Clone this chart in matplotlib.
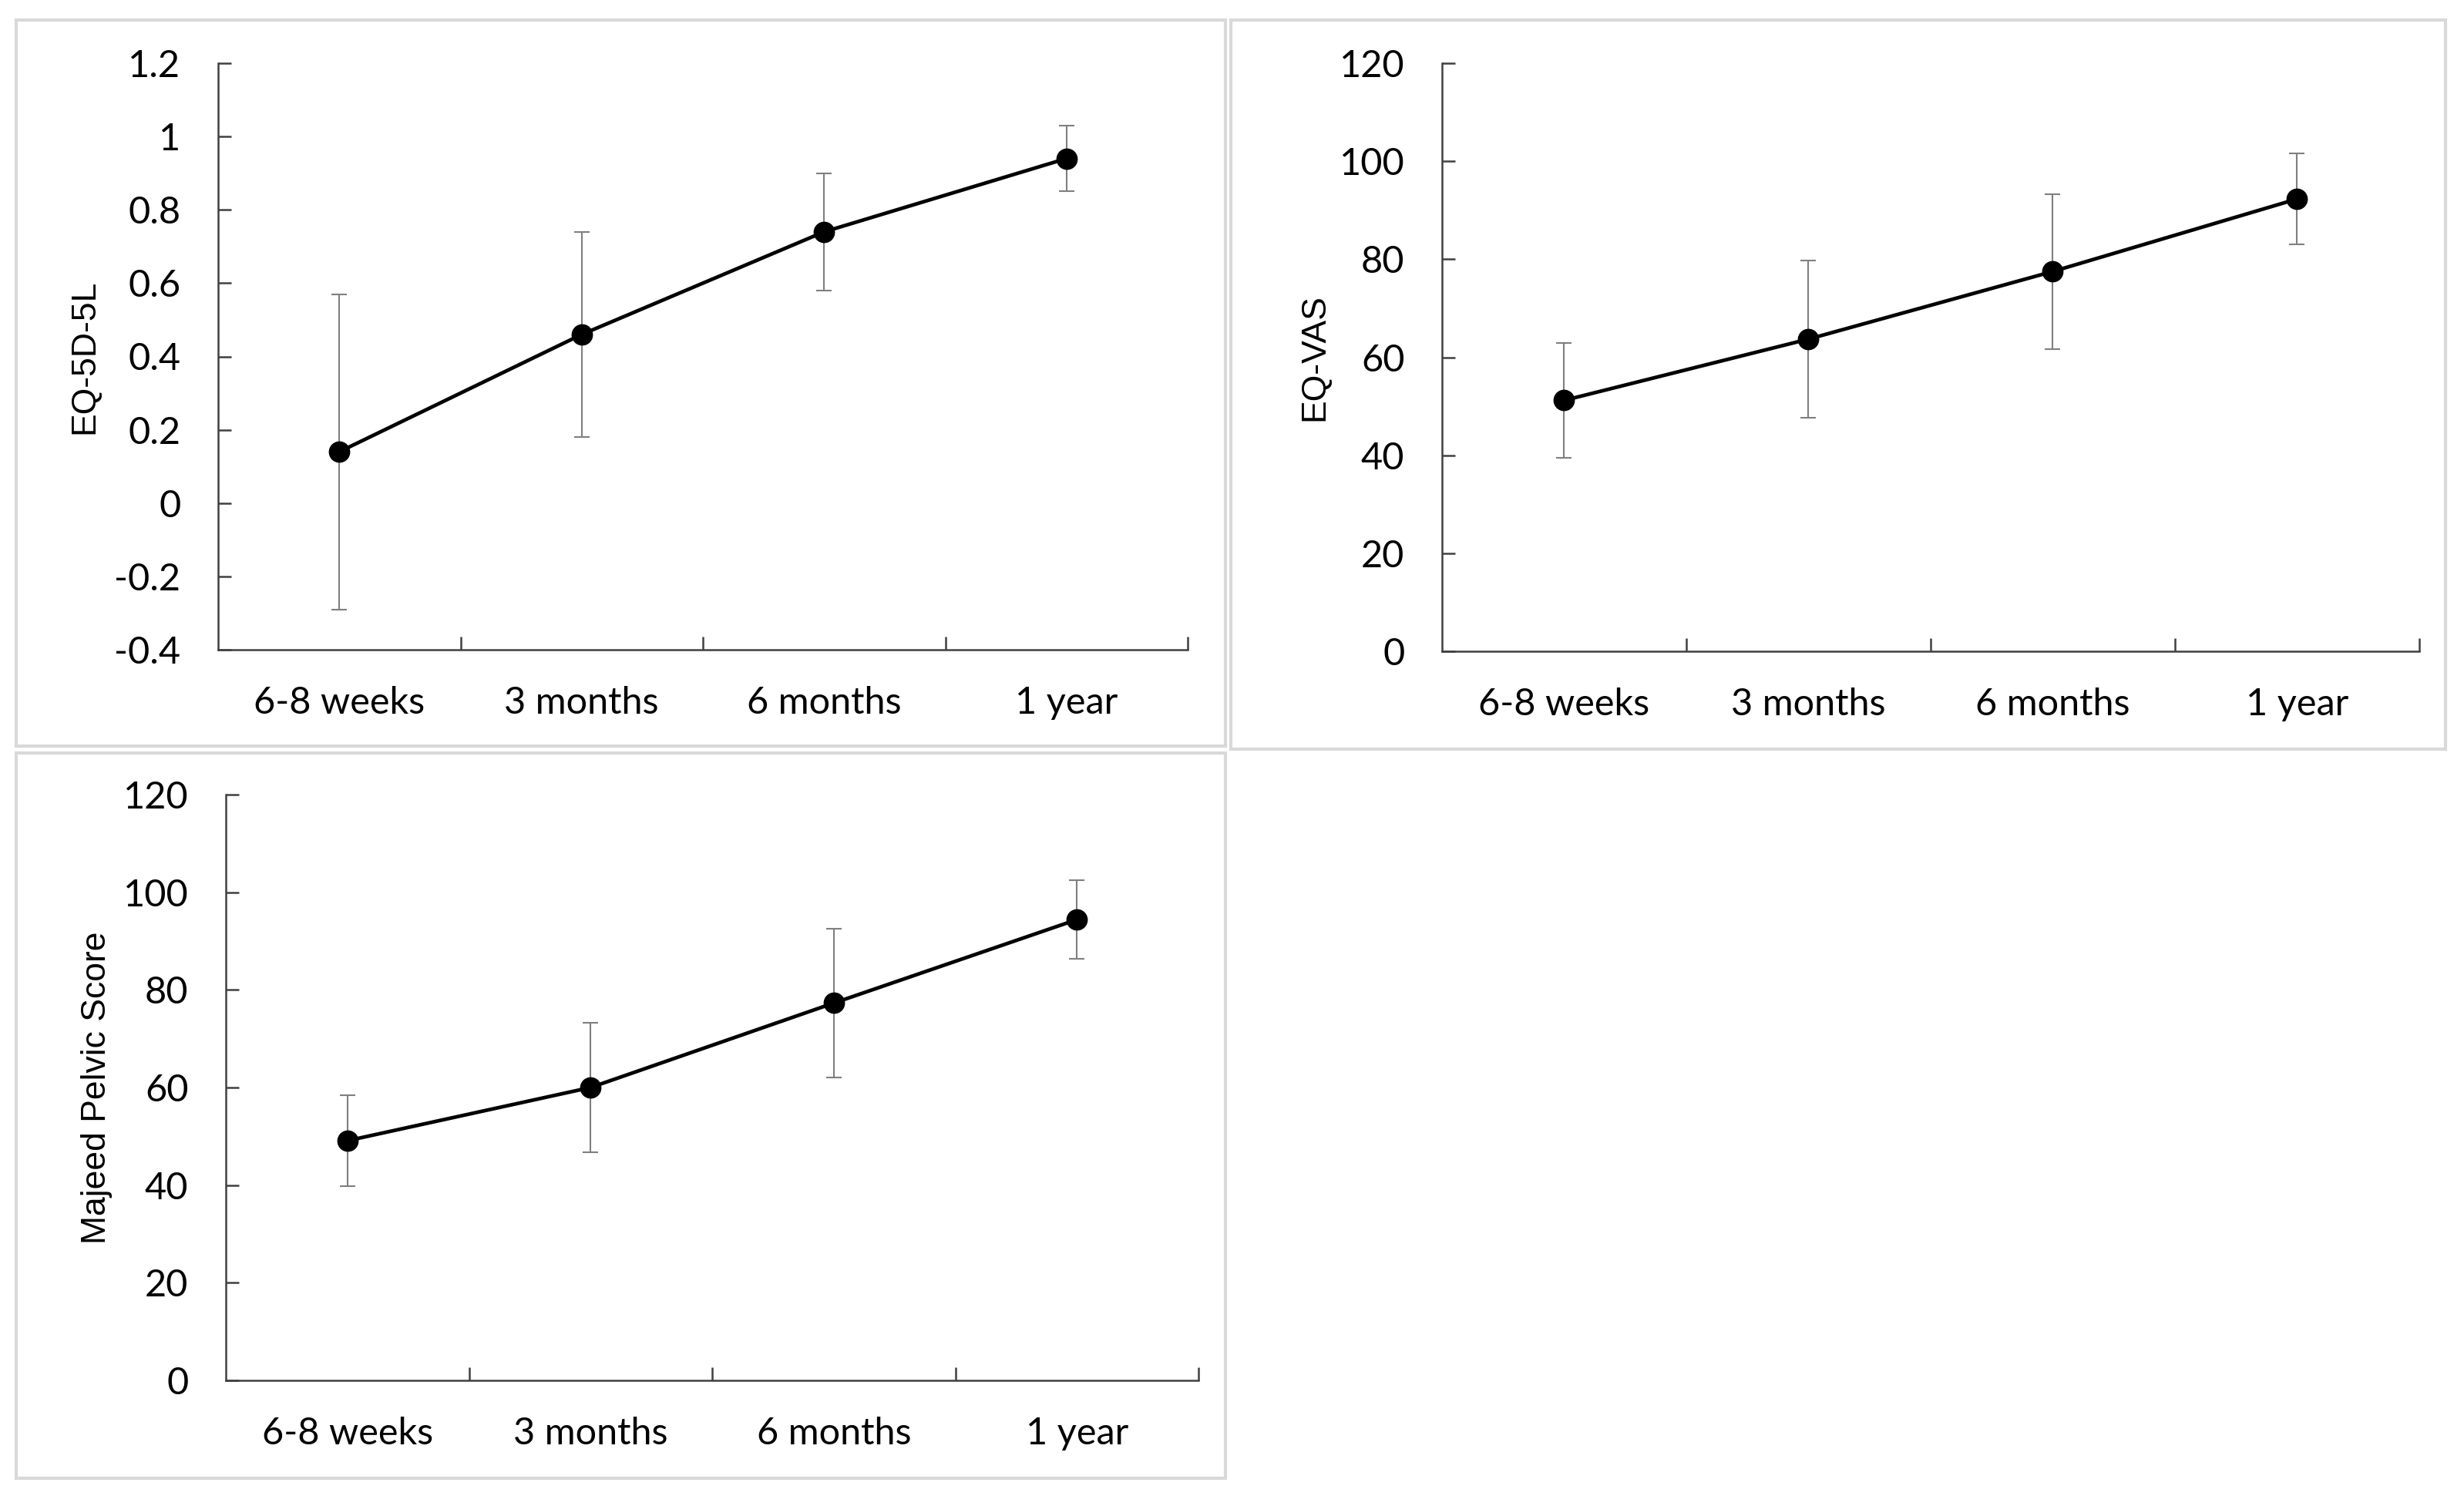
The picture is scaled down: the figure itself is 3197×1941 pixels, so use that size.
import numpy as np
import matplotlib.pyplot as plt
from matplotlib.patches import Rectangle
from matplotlib.ticker import FuncFormatter, FixedLocator

# data
timepoints = ['6-8 weeks', '3 months', '6 months', '1 year']

eq5d_mean = [0.14, 0.46, 0.74, 0.94]
eq5d_sd = [0.43, 0.28, 0.16, 0.09]

vas_mean = [51.2, 63.7, 77.5, 92.3]
vas_sd = [11.7, 16.0, 15.8, 9.3]

majeed_mean = [49.1, 60.0, 77.3, 94.4]
majeed_sd = [9.3, 13.2, 15.2, 8.1]

TICK_FONT = ['Lato', 'DejaVu Sans']
LABEL_FONT = ['Liberation Sans', 'DejaVu Sans']
W, H = 3197, 1941


def fmt(v, pos):
    s = '%g' % round(v, 6)
    return s.replace('\u2212', '-')


def panel(fig, rect, mean, sd, ylim, ystep, ylabel, label_x):
    ax = fig.add_axes(rect)
    x = np.arange(len(timepoints))
    ax.errorbar(x, mean, yerr=sd, fmt='none', ecolor='#7f7f7f', elinewidth=1.5,
                capsize=7.5, capthick=1.5, zorder=2)
    ax.plot(x, mean, color='black', lw=3.4, marker='o', markersize=19, zorder=3)
    ax.set_xlim(-0.5, len(timepoints) - 0.5)
    ax.set_ylim(*ylim)
    ax.set_yticks(np.arange(ylim[0], ylim[1] + ystep / 2, ystep))
    ax.yaxis.set_major_formatter(FuncFormatter(fmt))
    ax.set_xticks(x)
    ax.set_xticklabels(timepoints)
    # category boundary ticks, excel style
    ax.xaxis.set_minor_locator(FixedLocator(list(x + 0.5)))
    ax.tick_params(axis='x', which='major', length=0, pad=34)
    ax.tick_params(axis='x', which='minor', direction='in', length=12, width=1.8,
                   color='#404040')
    ax.tick_params(axis='y', direction='in', length=12, width=1.8, color='#404040', pad=35)
    for lab in ax.get_xticklabels() + ax.get_yticklabels():
        lab.set_family(TICK_FONT)
        lab.set_fontsize(35)
    for s in ['top', 'right']:
        ax.spines[s].set_visible(False)
    for s in ['left', 'bottom']:
        ax.spines[s].set_color('#404040')
        ax.spines[s].set_linewidth(1.8)
    ax.text(label_x, 0.5, ylabel, transform=ax.transAxes, rotation=90,
            ha='center', va='center', fontsize=32, family=LABEL_FONT)
    return ax


fig = plt.figure(figsize=(W / 100, H / 100), dpi=100)

# light grey frames round each chart
for (x0, y0, x1, y1) in [(21, 26, 1590, 968), (1597, 26, 3173, 972), (21, 977, 1590, 1918)]:
    fig.patches.append(Rectangle((x0 / W, 1 - y1 / H), (x1 - x0) / W, (y1 - y0) / H,
                                 transform=fig.transFigure, fill=False,
                                 edgecolor='#d9d9d9', lw=3))

panel(fig, [283 / W, 1 - 843 / H, 1258 / W, 761 / H], eq5d_mean, eq5d_sd,
      (-0.4, 1.2), 0.2, 'EQ-5D-5L', -0.1375)
panel(fig, [1871 / W, 1 - 845 / H, 1268 / W, 763 / H], vas_mean, vas_sd,
      (0, 120), 20, 'EQ-VAS', -0.130)
panel(fig, [293 / W, 1 - 1791 / H, 1262 / W, 760 / H], majeed_mean, majeed_sd,
      (0, 120), 20, 'Majeed Pelvic Score', -0.133)

fig.savefig('out.png', dpi=100)
